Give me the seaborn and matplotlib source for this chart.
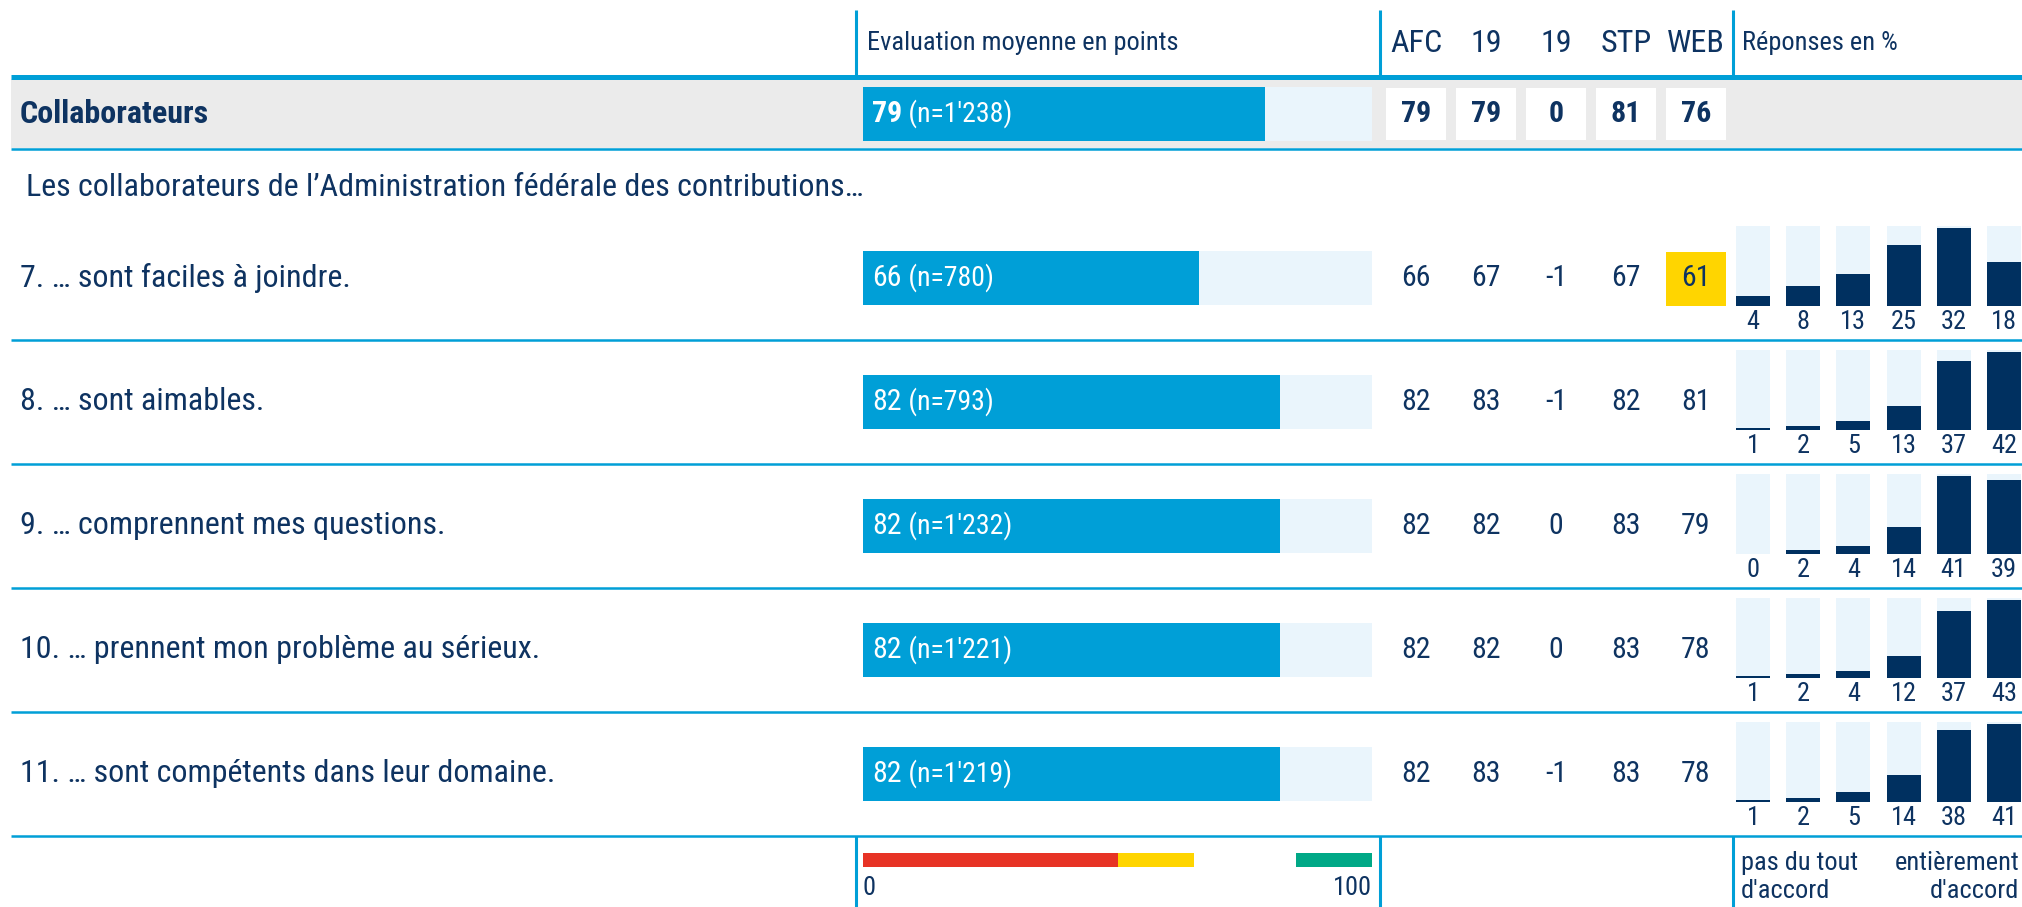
"""
Satisfaction table: Collaborateurs (AFC), mean score bars + channel columns
+ distribution of answers per question.
"""

import matplotlib
matplotlib.use("Agg")
import matplotlib.pyplot as plt
from matplotlib import font_manager
from matplotlib.patches import Rectangle
import seaborn as sns

# ── Data ───────────────────────────────────────────────────────────────────────
SECTION_TITLE = "Collaborateurs"
SECTION_SCORE = 79
SECTION_N     = "1'238"
SECTION_COLS  = [79, 79, 0, 81, 76]

INTRO = "Les collaborateurs de l\u2019Administration fédérale des contributions\u2026"

QUESTIONS = [
    "7. \u2026 sont faciles à joindre.",
    "8. \u2026 sont aimables.",
    "9. \u2026 comprennent mes questions.",
    "10. \u2026 prennent mon problème au sérieux.",
    "11. \u2026 sont compétents dans leur domaine.",
]
SCORES   = [66, 82, 82, 82, 82]
N_LABELS = ["780", "793", "1'232", "1'221", "1'219"]

COL_HEADERS = ["AFC", "19", "19", "STP", "WEB"]
AFC   = [66, 82, 82, 82, 82]
Y19   = [67, 83, 82, 82, 83]
DIFF  = [-1, -1, 0, 0, -1]
STP   = [67, 82, 83, 83, 83]
WEB   = [61, 81, 79, 78, 78]

LEVELS = ["1", "2", "3", "4", "5", "6"]
RESPONSES = [
    [4, 8, 13, 25, 32, 18],
    [1, 2, 5, 13, 37, 42],
    [0, 2, 4, 14, 41, 39],
    [1, 2, 4, 12, 37, 43],
    [1, 2, 5, 14, 38, 41],
]

# colour scale of the legend: red up to 50, yellow up to 65, gap, green from 85
BAND_EDGES = [100, 85, 65, 50]
YELLOW_RANGE = (50, 65)

# ── Style ──────────────────────────────────────────────────────────────────────
BLUE   = "#009FD7"
NAVY   = "#003060"
TEXT   = "#0E3361"
LIGHT  = "#EAF5FC"
GREY   = "#EBEBEB"
YELLOW = "#FFD500"
RED    = "#E73325"
GREEN  = "#00A886"
BAND_COLORS = [GREEN, "white", YELLOW, RED]

FS_LABEL = 23
FS_VALUE = 21.5
FS_N     = 20
FS_SMALL = 19

sns.set_style("white")
_names = {f.name for f in font_manager.fontManager.ttflist}
FONT = next((f for f in ["Roboto Condensed", "Liberation Sans Narrow", "Roboto"]
             if f in _names), "DejaVu Sans")
plt.rcParams["font.family"] = [FONT, "DejaVu Sans"]

# ── Layout (pixels, y from top) ────────────────────────────────────────────────
FIG_W, FIG_H = 2022, 907
LEFT     = 11
SCALE_X0 = 863          # 0 of the mean-score scale
SCALE_X1 = 1372         # 100 of the mean-score scale
COL_X0   = 1416         # centre of first value column
COL_STEP = 70
BOX_W    = 60
RESP_X0  = 1728
RESP_X1  = 2029
VLINES   = [856, 1380, 1733]
ROW_TOP0 = 251
ROW_STEP = 124
BAR_H    = 54
RESP_H   = 80


def px_axes(fig, x0, y0, x1, y1):
    return fig.add_axes([x0 / FIG_W, 1 - y1 / FIG_H, (x1 - x0) / FIG_W, (y1 - y0) / FIG_H])


def eval_bar(fig, top, score, n_label, bold):
    ax = px_axes(fig, SCALE_X0, top, SCALE_X1, top + BAR_H)
    sns.barplot(x=[100], y=[""], orient="h", color=LIGHT, width=1,
                saturation=1, linewidth=0, ax=ax)
    sns.barplot(x=[score], y=[""], orient="h", color=BLUE, width=1,
                saturation=1, linewidth=0, ax=ax)
    ax.set_xlim(0, 100)
    ax.set_ylim(0.5, -0.5)
    ax.axis("off")
    t = ax.text(1.8, 0, f"{score}", color="white", fontsize=FS_VALUE, va="center",
                fontweight="bold" if bold else "normal")
    ax.annotate(f" (n={n_label})", xy=(1, 0.5), xycoords=t, va="center",
                ha="left", color="white", fontsize=FS_N)


def response_bars(fig, top, values):
    ax = px_axes(fig, RESP_X0, top, RESP_X1, top + RESP_H)
    peak = max(values) * 1.025
    sns.barplot(x=LEVELS, y=[peak] * len(LEVELS), color=LIGHT, width=0.68,
                saturation=1, linewidth=0, ax=ax)
    sns.barplot(x=LEVELS, y=values, color=NAVY, width=0.68,
                saturation=1, linewidth=0, ax=ax)
    ax.set_ylim(0, peak)
    ax.set_xlim(-0.5, len(LEVELS) - 0.5)
    ax.axis("off")
    for i, v in enumerate(values):
        ax.annotate(str(v), xy=(i, 0), xytext=(0, -3), textcoords="offset points",
                    ha="center", va="top", color=TEXT, fontsize=FS_SMALL)


def main():
    fig = plt.figure(figsize=(FIG_W / 100, FIG_H / 100), dpi=100)
    bg = fig.add_axes([0, 0, 1, 1])
    bg.set_xlim(0, FIG_W)
    bg.set_ylim(FIG_H, 0)
    bg.axis("off")

    col_x = [COL_X0 + i * COL_STEP for i in range(len(COL_HEADERS))]
    last_sep = ROW_TOP0 + ROW_STEP * (len(QUESTIONS) - 1) + 89

    # ── Header ─────────────────────────────────────────────────────────────────
    bg.vlines(VLINES, 10, 76, color=BLUE, lw=2.2)
    bg.vlines(VLINES, last_sep, FIG_H, color=BLUE, lw=2.2)
    bg.text(867, 43, "Evaluation moyenne en points", color=TEXT, fontsize=FS_SMALL, va="center")
    for x, h in zip(col_x, COL_HEADERS):
        bg.text(x, 43, h, color=TEXT, fontsize=FS_LABEL, ha="center", va="center")
    bg.text(1742, 43, "Réponses en %", color=TEXT, fontsize=FS_SMALL, va="center")

    # ── Section band ───────────────────────────────────────────────────────────
    bg.add_patch(Rectangle((LEFT, 79), FIG_W - LEFT, 69, color=GREY, lw=0))
    bg.hlines(76.5, LEFT, FIG_W, color=BLUE, lw=3.6)
    bg.hlines(149, LEFT, FIG_W, color=BLUE, lw=1.8)
    bg.text(20, 114, SECTION_TITLE, color=TEXT, fontsize=FS_LABEL, fontweight="bold", va="center")
    eval_bar(fig, 87, SECTION_SCORE, SECTION_N, bold=True)
    for x, v in zip(col_x, SECTION_COLS):
        bg.add_patch(Rectangle((x - BOX_W / 2, 88), BOX_W, 52, color="white", lw=0))
        bg.text(x, 114, str(v), color=TEXT, fontsize=FS_VALUE, fontweight="bold",
                ha="center", va="center")

    bg.text(26, 188, INTRO, color=TEXT, fontsize=FS_LABEL, va="center")

    # ── Question rows ──────────────────────────────────────────────────────────
    table = list(zip(AFC, Y19, DIFF, STP, WEB))
    for i, label in enumerate(QUESTIONS):
        top = ROW_TOP0 + i * ROW_STEP
        yc = top + BAR_H / 2
        bg.text(20, yc, label, color=TEXT, fontsize=FS_LABEL, va="center")
        eval_bar(fig, top, SCORES[i], N_LABELS[i], bold=False)
        for j, (x, v) in enumerate(zip(col_x, table[i])):
            if COL_HEADERS[j] in ("STP", "WEB") and YELLOW_RANGE[0] <= v < YELLOW_RANGE[1]:
                bg.add_patch(Rectangle((x - BOX_W / 2, top + 1), BOX_W, BAR_H, color=YELLOW, lw=0))
            bg.text(x, yc, str(v), color=TEXT, fontsize=FS_VALUE, ha="center", va="center")
        response_bars(fig, top - 25, RESPONSES[i])
        bg.hlines(top + 89, LEFT, FIG_W, color=BLUE, lw=1.8)

    # ── Footer legend ──────────────────────────────────────────────────────────
    ax = px_axes(fig, SCALE_X0, 853, SCALE_X1, 867)
    for edge, c in zip(BAND_EDGES, BAND_COLORS):
        sns.barplot(x=[edge], y=[""], orient="h", color=c, width=1,
                    saturation=1, linewidth=0, ax=ax)
    ax.set_xlim(0, 100)
    ax.set_ylim(0.5, -0.5)
    ax.axis("off")
    bg.text(SCALE_X0, 888, "0", color=TEXT, fontsize=FS_SMALL, va="center", ha="left")
    bg.text(SCALE_X1, 888, "100", color=TEXT, fontsize=FS_SMALL, va="center", ha="right")
    bg.text(1741, 877, "pas du tout\nd'accord", color=TEXT, fontsize=FS_SMALL,
            va="center", ha="left", linespacing=1.2)
    bg.text(2019, 877, "entièrement\nd'accord", color=TEXT, fontsize=FS_SMALL,
            va="center", ha="right", multialignment="right", linespacing=1.2)

    fig.savefig("out.png", dpi=100)
    plt.close(fig)


if __name__ == "__main__":
    main()
